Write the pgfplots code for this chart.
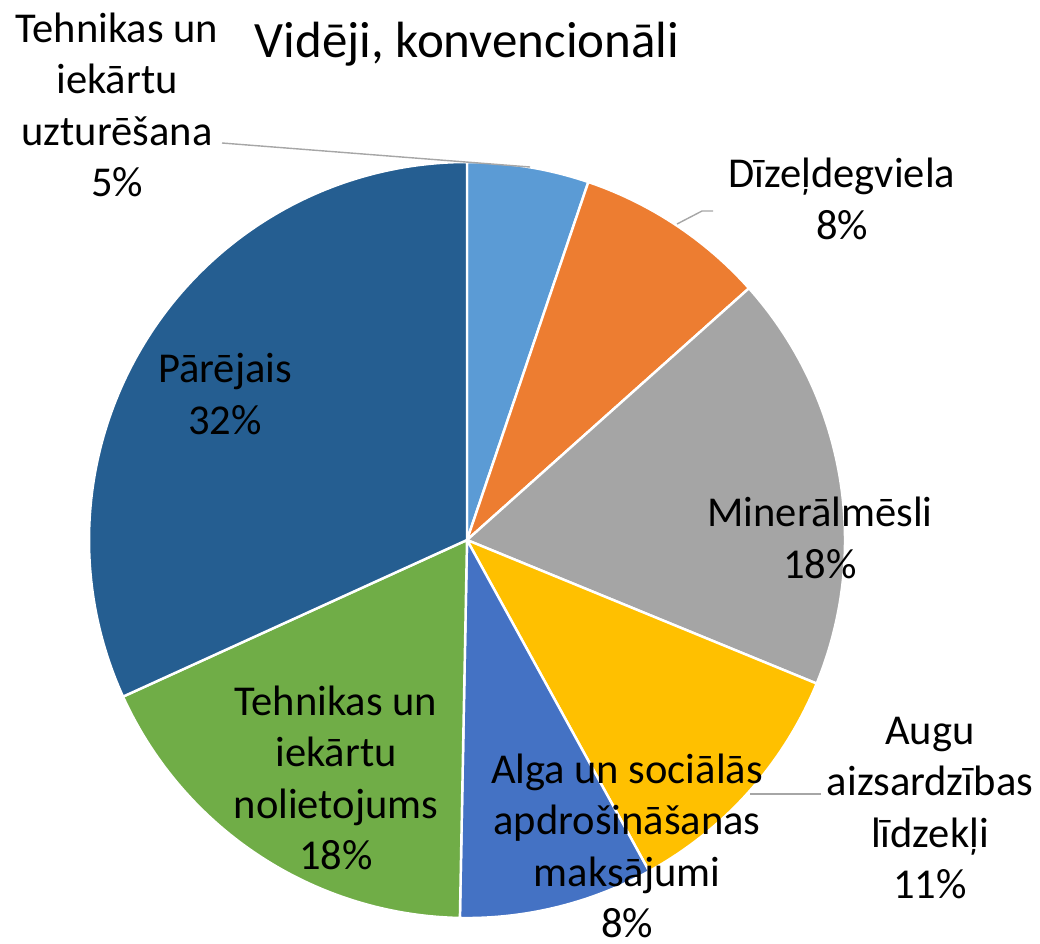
\documentclass[border=0pt]{standalone}
\usepackage{pgfplots}
\pgfplotsset{compat=1.18}
\usepackage{fontspec}
\setmainfont{Carlito}
\definecolor{c1}{HTML}{5B9BD5}
\definecolor{c2}{HTML}{ED7D31}
\definecolor{c3}{HTML}{A5A5A5}
\definecolor{c4}{HTML}{FFC000}
\definecolor{c5}{HTML}{4472C4}
\definecolor{c6}{HTML}{70AD47}
\definecolor{c7}{HTML}{255E91}
\definecolor{lead}{HTML}{A6A6A6}
\tikzset{lbl/.style={align=center, font=\fontsize{12.1pt}{14.6pt}\selectfont, text=black, inner sep=0pt}}
% slice: start percent, value percent, colour
\newcommand{\slice}[3]{%
  \addplot[fill=#3, draw=white, line width=0.7pt, line join=round, domain={#1}:{#1+#2}, samples=120, variable=\p]
    ({467+378*cos(90-3.6*\p)}, {540-378*sin(90-3.6*\p)}) -- (axis cs:467,540) -- cycle;}
\begin{document}
\begin{tikzpicture}
\begin{axis}[
  width=10.4cm, height=9.43cm, scale only axis,
  xmin=0, xmax=1040, ymin=0, ymax=943, y dir=reverse,
  hide axis, clip=false,
]
% values (percent): 5.2, 8.2, 17.8, 10.8, 8.3, 17.9, 31.8
\slice{0}{5.2}{c1}
\slice{5.2}{8.2}{c2}
\slice{13.4}{17.8}{c3}
\slice{31.2}{10.8}{c4}
\slice{42.0}{8.3}{c5}
\slice{50.3}{17.9}{c6}
\slice{68.2}{31.8}{c7}
% leader lines
\addplot[lead, line width=0.4pt] coordinates {(222,143) (530,167)};
\addplot[lead, line width=0.4pt] coordinates {(677,224) (702,211) (713,211)};
\addplot[lead, line width=0.4pt] coordinates {(750,794) (821,794)};
% labels
\node[lbl] at (axis cs:467,44) {\fontsize{14.5pt}{17pt}\selectfont Vidēji, konvencionāli};
\node[lbl] at (axis cs:117,105) {Tehnikas un\\iekārtu\\uzturēšana\\5\%};
\node[lbl] at (axis cs:842,199) {Dīzeļdegviela\\8\%};
\node[lbl] at (axis cs:820,538) {Minerālmēsli\\18\%};
\node[lbl] at (axis cs:930,808) {Augu\\aizsardzības\\līdzekļi\\11\%};
\node[lbl] at (axis cs:627,846) {Alga un sociālās\\apdrošināšanas\\maksājumi\\8\%};
\node[lbl] at (axis cs:336,778) {Tehnikas un\\iekārtu\\nolietojums\\18\%};
\node[lbl] at (axis cs:225,394) {Pārējais\\32\%};
\end{axis}
\path (current axis.south west) (current axis.north east);
\end{tikzpicture}
\end{document}
